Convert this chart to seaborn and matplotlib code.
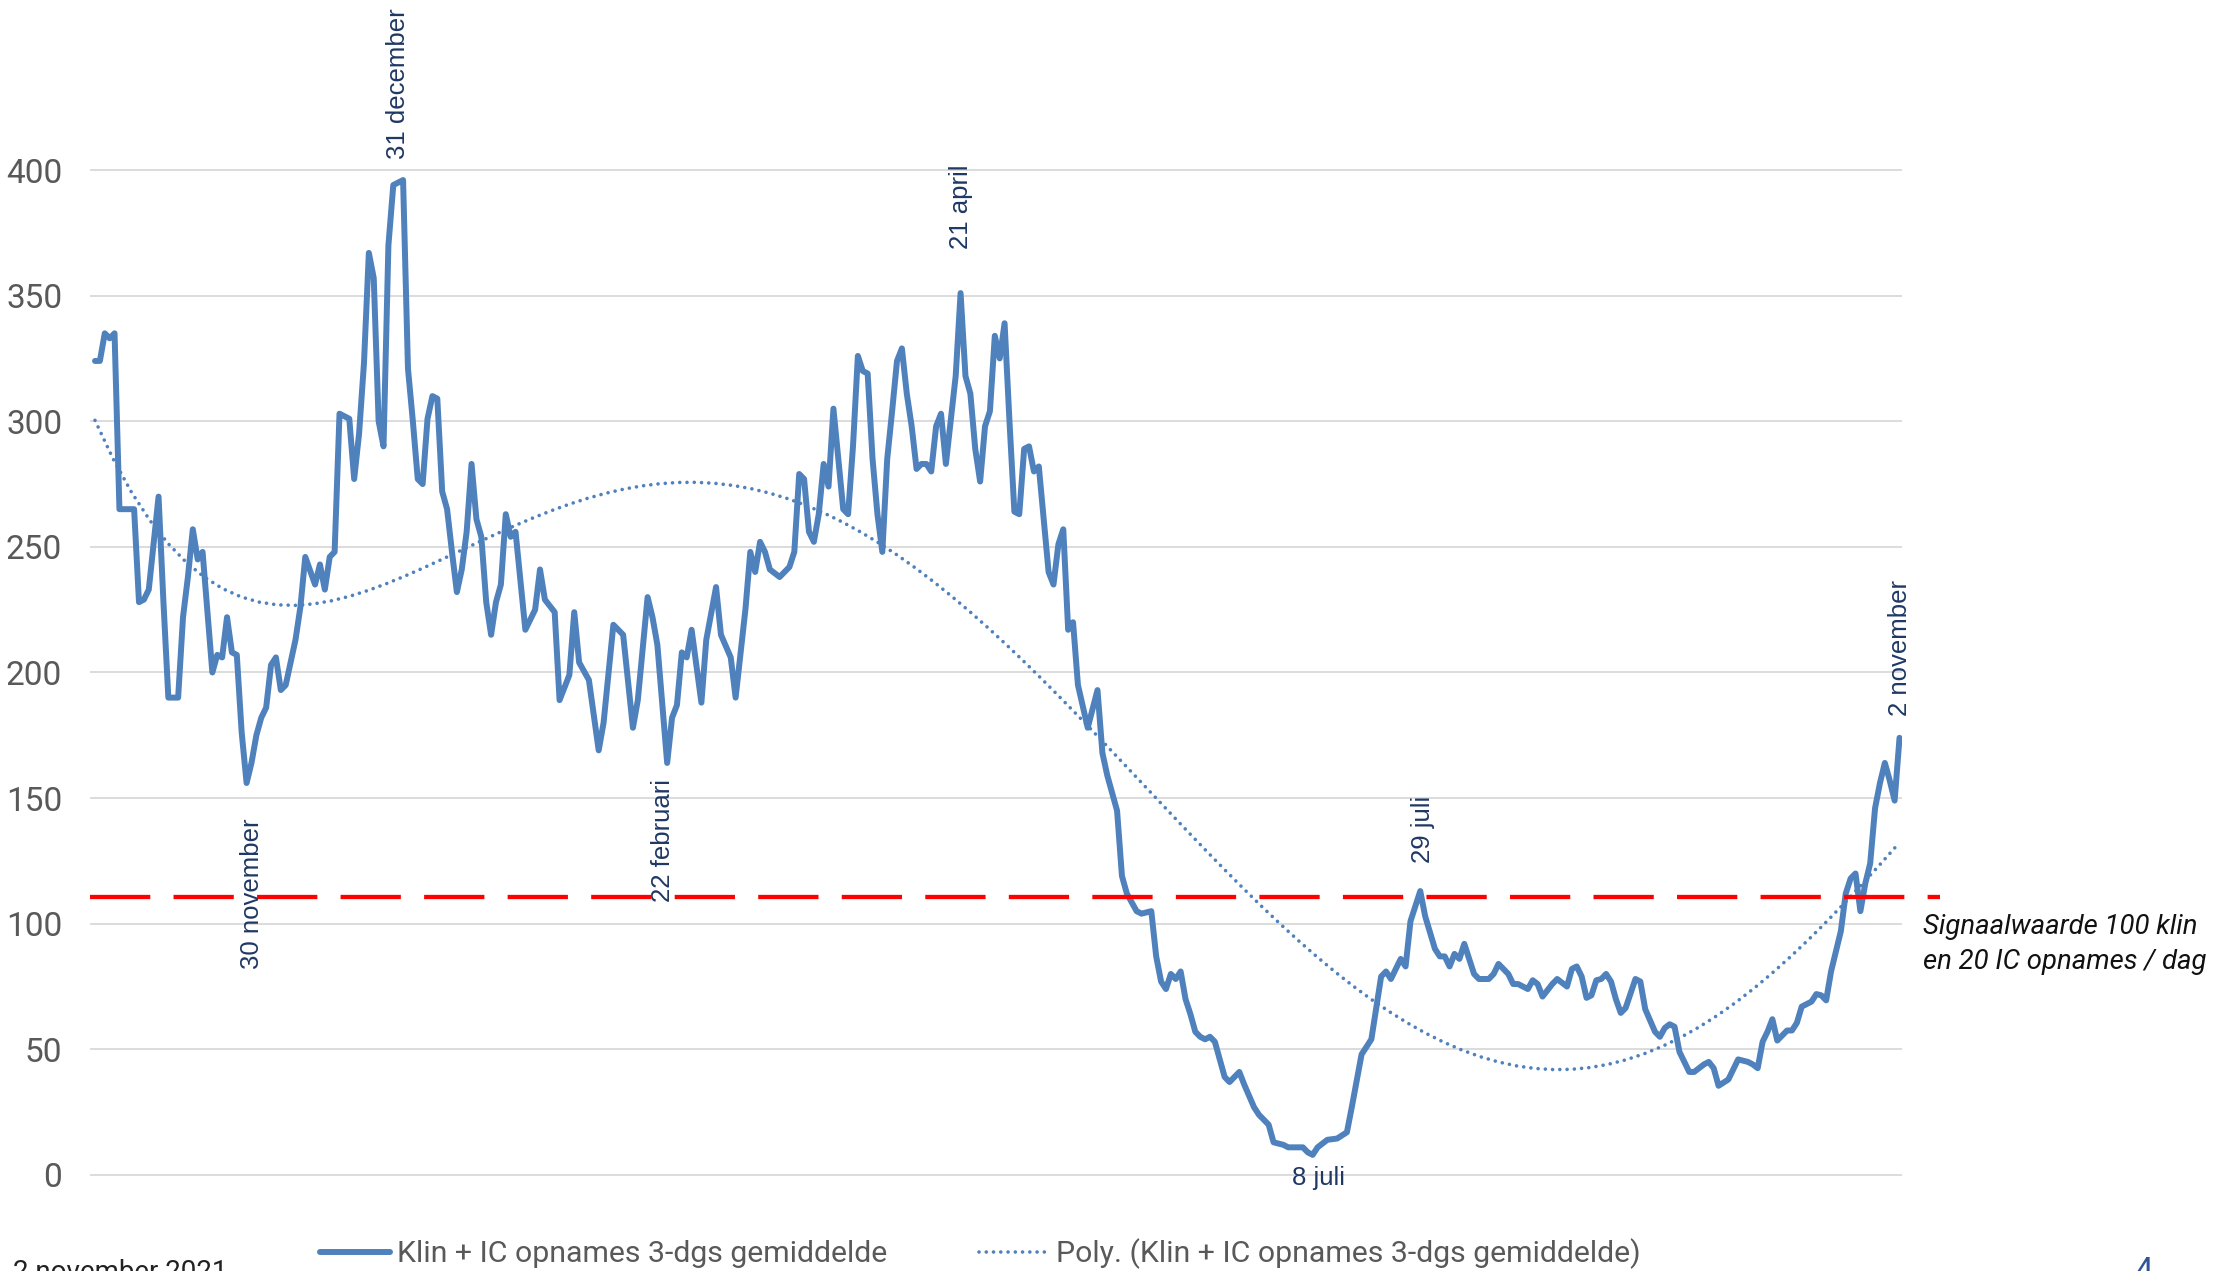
import numpy as np
import pandas as pd
import seaborn as sns
from matplotlib import pyplot as plt

sns.set_style('white')
plt.rcParams['font.family'] = ['Roboto', 'DejaVu Sans']

# dag-index (0 = 29 oktober 2020) en 3-daags gemiddelde klinische + IC opnames
days = [0, 1, 2, 3, 4, 5, 8, 9, 10, 11, 13, 14, 15, 17, 18, 19, 20, 21, 22, 24,
        25, 26, 27, 28, 29, 30, 31, 32, 33, 34, 35, 36, 37, 38, 39, 41, 42, 43, 45, 46,
        47, 48, 49, 50, 52, 53, 54, 55, 56, 57, 58, 59, 60, 61, 63, 64, 65, 66, 67, 68,
        69, 70, 71, 72, 73, 74, 75, 76, 77, 78, 79, 80, 81, 82, 83, 84, 85, 86, 88, 90,
        91, 92, 94, 95, 97, 98, 99, 101, 103, 104, 106, 108, 110, 111, 113, 114, 115, 117, 118, 119,
        120, 121, 122, 124, 125, 127, 128, 130, 131, 133, 134, 135, 136, 137, 138, 140, 142, 143, 144, 145,
        146, 147, 148, 149, 150, 151, 153, 154, 155, 156, 157, 158, 159, 160, 161, 162, 163, 164, 165, 166,
        167, 168, 169, 170, 171, 172, 173, 174, 176, 177, 178, 179, 180, 181, 182, 183, 184, 185, 186, 187,
        188, 189, 190, 191, 192, 193, 195, 196, 197, 198, 199, 200, 201, 203, 205, 206, 207, 209, 210, 211,
        213, 214, 216, 217, 218, 219, 220, 221, 222, 223, 224, 225, 226, 227, 228, 229, 231, 232, 234, 235,
        237, 238, 240, 241, 243, 244, 247, 248, 249, 250, 252, 254, 256, 257, 259, 261, 263, 264, 265, 267,
        268, 269, 271, 272, 274, 275, 276, 277, 278, 279, 280, 282, 283, 285, 286, 287, 289, 290, 291, 293,
        294, 295, 296, 298, 299, 301, 302, 303, 304, 305, 306, 307, 308, 309, 310, 311, 312, 313, 315, 316,
        317, 319, 320, 321, 322, 323, 324, 326, 327, 329, 330, 331, 332, 334, 335, 336, 338, 339, 340, 341,
        342, 343, 344, 345, 346, 347, 348, 349, 351, 352, 353, 354, 355, 357, 358, 359, 360, 361, 362, 363,
        364, 365, 366, 367, 368, 369]
opnames = [324, 324, 335, 333, 335, 265, 265, 228, 229, 233, 270, 228, 190, 190, 222, 238, 257, 245, 248, 200,
           207, 206, 222, 208, 207, 176, 156, 164, 175, 182, 186, 203, 206, 193, 195, 213, 226, 246, 235, 243,
           233, 246, 248, 303, 301, 277, 295, 323, 367, 357, 300, 290, 370, 394, 396, 321, 300, 277, 275, 301,
           310, 309, 272, 265, 248, 232, 241, 256, 283, 261, 254, 228, 215, 228, 235, 263, 254, 256, 217, 225,
           241, 229, 224, 189, 199, 224, 204, 197, 169, 180, 219, 215, 178, 189, 230, 222, 211, 164, 182, 187,
           208, 206, 217, 188, 213, 234, 215, 206, 190, 225, 248, 240, 252, 248, 241, 238, 242, 248, 279, 277,
           256, 252, 263, 283, 274, 305, 265, 263, 290, 326, 320, 319, 285, 263, 248, 285, 304, 324, 329, 311,
           298, 281, 283, 283, 280, 298, 303, 283, 318, 351, 318, 311, 289, 276, 298, 304, 334, 325, 339, 300,
           264, 263, 289, 290, 280, 282, 240, 235, 251, 257, 217, 220, 195, 178, 193, 168, 159, 145, 119, 112,
           105, 104, 105, 87, 77, 74, 80, 78, 81, 70, 64, 57, 55, 54, 55, 53, 39, 37, 41, 36,
           27, 24, 20, 13, 12, 11, 11, 9, 8, 11, 14, 14.5, 17, 27, 48, 54, 79, 81, 78, 86,
           83, 101, 113, 103, 90, 87, 87, 83, 88, 86, 92, 80, 78, 78, 80, 84, 80, 76, 76, 74,
           77.5, 76, 71, 76, 78, 75, 82, 83, 79, 70.5, 71.5, 77.5, 78, 80, 77, 70, 64.5, 66.5, 78, 77,
           66, 57, 55, 58.5, 60, 59, 49, 41, 41, 44, 45, 42.5, 35.5, 38, 42, 46, 45, 44, 42.5, 53,
           57, 62, 53.5, 55.5, 57.5, 57.5, 60.5, 67, 69, 72, 71.5, 69.5, 81, 97, 112, 118, 120, 105, 116, 124,
           146, 156, 164, 157, 149, 174]

signaalwaarde = 110.5
yticks = [0, 50, 100, 150, 200, 250, 300, 350, 400]

# labels: tekst, dag, hoogte, rotatie, verticale uitlijning
labels = [
    ('30 november', 32.1, 142, 90, 'top'),
    ('31 december', 62.0, 404.5, 90, 'bottom'),
    ('22 februari', 116.1, 157.7, 90, 'top'),
    ('21 april', 177.1, 368.6, 90, 'bottom'),
    ('8 juli', 250.1, -1.2, 0, 'center'),
    ('29 juli', 271.6, 124, 90, 'bottom'),
    ('2 november', 369.1, 182.5, 90, 'bottom'),
]

df = pd.DataFrame({'dag': days, 'opnames': opnames})

blue = '#4F81BD'
navy = '#1F3864'
grey = '#595959'
name = 'Klin + IC opnames 3-dgs gemiddelde'

fig = plt.figure(figsize=(22.2, 12.71), dpi=100)
ax = fig.add_axes([0.04054, 0.0716, 0.8162, 0.7986])

sns.lineplot(data=df, x='dag', y='opnames', ax=ax, color=blue, lw=4.3,
             estimator=None, label=name, zorder=3)
sns.regplot(data=df, x='dag', y='opnames', ax=ax, order=5, ci=None, scatter=False,
            truncate=True, color=blue, label='Poly. (' + name + ')',
            line_kws={'lw': 2.6, 'ls': (0, (0.01, 2.0)), 'dash_capstyle': 'round',
                      'zorder': 2})

ax.axhline(signaalwaarde, xmin=0, xmax=1.021, color='#FF0000', lw=3.1,
           dashes=(14, 5.4), clip_on=False, zorder=4)

ax.set_xlim(-1.02, 369.5)
ax.set_ylim(-2, 402)
ax.set_xticks([])
ax.set_yticks(yticks)
ax.tick_params(axis='y', length=0, pad=20, labelsize=24, labelcolor=grey)
ax.yaxis.grid(True, color='#D9D9D9', lw=1.3)
ax.set_axisbelow(True)
for s in ax.spines.values():
    s.set_visible(False)
ax.set_xlabel('')
ax.set_ylabel('')

for txt, d, y, rot, va in labels:
    ax.text(d, y, txt, rotation=rot, ha='center', va=va, fontsize=18.5,
            color=navy, family=['Liberation Sans', 'DejaVu Sans'], clip_on=False)

ax.text(1.0117, 104, 'Signaalwaarde 100 klin\nen 20 IC opnames / dag',
        transform=ax.get_yaxis_transform(), ha='left', va='top', fontsize=19.8,
        style='italic', color='#111111', linespacing=1.45)

ax.legend(loc='center', bbox_to_anchor=(0.4416, 0.0134), bbox_transform=fig.transFigure,
          ncol=2, frameon=False, fontsize=21.8, labelcolor=grey, handlelength=2.3,
          handletextpad=0.25, columnspacing=3.0)

fig.text(0.006, 0.0095, '2 november 2021', ha='left', va='top', fontsize=20, color='#222222')
fig.text(0.9615, 0.0115, '4', ha='left', va='top', fontsize=24, color='#2F5597')

fig.savefig('out.png', dpi=100, facecolor='white')
